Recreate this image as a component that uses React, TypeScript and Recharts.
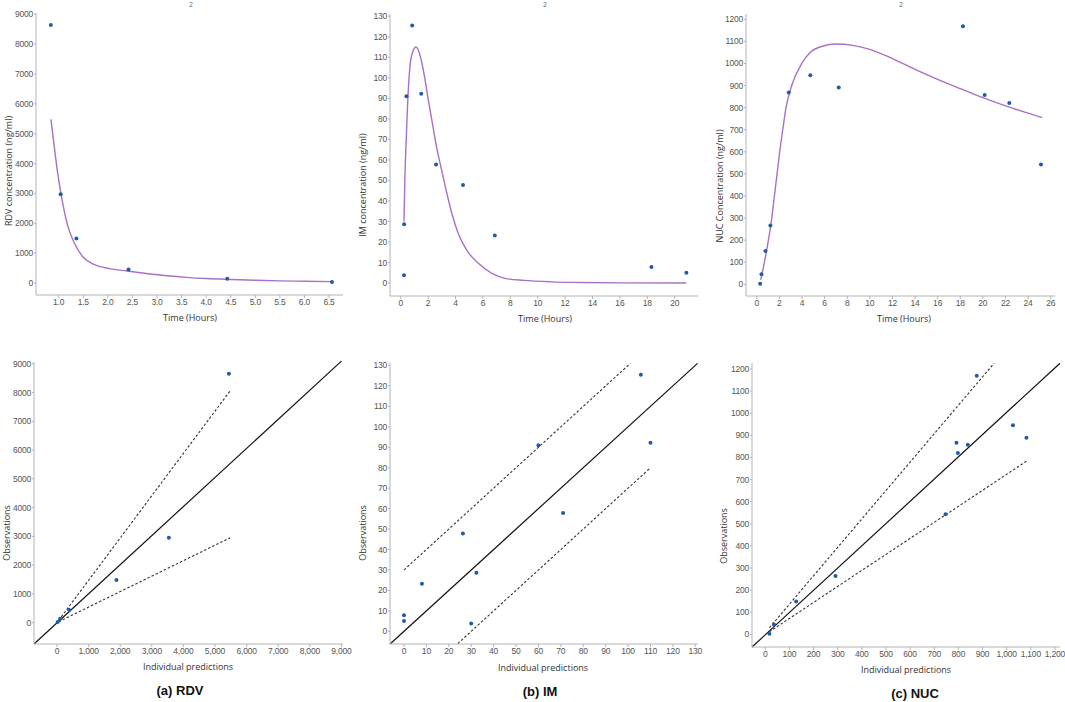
import React from "react";
import {
  ComposedChart,
  Line,
  Scatter,
  XAxis,
  YAxis,
  ReferenceLine,
} from "recharts";

// ---- RDV ----
const rdvTime = [0.84, 1.04, 1.36, 2.42, 4.43, 6.56];
const rdvConc = [8640, 2970, 1490, 450, 140, 30];
const rdvFitTime = [0.843, 0.91, 0.98, 1.07, 1.18, 1.32, 1.49, 1.72, 2.03, 2.39, 2.78, 3.2, 3.6, 4.0, 4.5, 5.0, 5.5, 6.0, 6.56];
const rdvFitConc = [5480, 4560, 3670, 2780, 1940, 1330, 880, 620, 480, 400, 320, 245, 190, 150, 118, 92, 72, 57, 45];
const rdvPred = [5440, 3540, 1880, 380, 100, 20];
const rdvObs = [8650, 2950, 1480, 450, 130, 25];
const rdvIdentity = [[-728, -744], [9000, 9090]];
const rdvUpper = [[50, 75], [5480, 8060]];
const rdvLower = [[50, 30], [5480, 2950]];

// ---- IM ----
const imTime = [0.24, 0.25, 0.42, 0.84, 1.5, 2.58, 4.55, 6.87, 18.3, 20.85];
const imConc = [3.8, 28.7, 91, 125.5, 92.2, 57.8, 47.8, 23.2, 7.8, 5.0];
const imFitTime = [0.24, 0.31, 0.41, 0.51, 0.63, 0.8, 1.12, 1.41, 1.73, 2.02, 2.31, 2.63, 2.99, 3.36, 3.73, 4.21, 4.82, 5.67, 6.65, 7.62, 9, 11, 13, 16, 20.85];
const imFitConc = [30, 52, 71, 88, 102, 111, 115, 111, 101, 89, 78, 66, 55, 44, 34, 24, 16, 9.6, 4.7, 2.3, 1.3, 0.6, 0.3, 0.1, 0.05];
const imPred = [0, 0, 8, 26.3, 32.3, 30, 60, 71, 105.7, 110];
const imObs = [7.8, 5.0, 23.2, 47.8, 28.7, 3.8, 91, 57.8, 125.5, 92.2];
const imIdentity = [[-6.2, -6.2], [131, 131]];
const imUpper = [[0, 30], [101, 131]];
const imLower = [[24, -6], [110, 80]];

// ---- NUC ----
const nucTime = [0.3, 0.42, 0.77, 1.21, 2.83, 4.74, 7.25, 18.24, 20.16, 22.34, 25.14];
const nucConc = [3, 45, 151, 266, 868, 947, 891, 1168, 857, 821, 543];
const nucFitTime = [0.35, 0.68, 1.03, 1.33, 1.56, 1.8, 2.03, 2.3, 2.59, 3.09, 3.98, 4.72, 5.8, 7.0, 8.5, 10, 12, 14, 16, 18, 20, 22, 24, 25.25];
const nucFitConc = [20, 100, 200, 300, 400, 500, 600, 700, 800, 900, 1000, 1050, 1078, 1088, 1082, 1064, 1022, 973, 928, 886, 845, 808, 775, 755];
const nucPred = [17, 36, 128, 291, 747, 792, 798, 839, 876, 1026, 1082];
const nucObs = [3, 45, 149, 264, 543, 867, 820, 857, 1169, 945, 889];
const nucIdentity = [[-55, -57], [1221, 1226]];
const nucUpper = [[17, 30], [948, 1226]];
const nucLower = [[17, 12], [1082, 783]];

// ticks
const rdvTimeTicks = [1.0, 1.5, 2.0, 2.5, 3.0, 3.5, 4.0, 4.5, 5.0, 5.5, 6.0, 6.5];
const rdvConcTicks = [0, 1000, 2000, 3000, 4000, 5000, 6000, 7000, 8000, 9000];
const imTimeTicks = [0, 2, 4, 6, 8, 10, 12, 14, 16, 18, 20];
const imConcTicks = [0, 10, 20, 30, 40, 50, 60, 70, 80, 90, 100, 110, 120, 130];
const nucTimeTicks = [0, 2, 4, 6, 8, 10, 12, 14, 16, 18, 20, 22, 24, 26];
const nucConcTicks = [0, 100, 200, 300, 400, 500, 600, 700, 800, 900, 1000, 1100, 1200];
const rdvPredTicks = [0, 1000, 2000, 3000, 4000, 5000, 6000, 7000, 8000, 9000];

const zip = (xs: number[], ys: number[]) => xs.map((x, i) => ({ x, y: ys[i] }));
const seg = (s: number[][]) => s.map(([x, y]) => ({ x, y }));

const DOT = "#1f5ca8";
const FIT = "#a870c6";
const AXIS = "#b4b4b4";
const tickStyle = {
  fill: "#555",
  fontSize: 8.5,
  letterSpacing: -0.2,
  fontFamily: "Liberation Sans, Arial, sans-serif",
};
const titleFont = "'Open Sans', 'Noto Sans', sans-serif";
const Y_W = 30;
const X_H = 20;

const dotShape = (p: any) => <circle cx={p.cx} cy={p.cy} r={2} fill={DOT} />;

type PanelProps = {
  box: number[]; // x0, y0, w, h
  plot: number[]; // left, top, right, bottom (page px)
  xDomain: number[];
  yDomain: number[];
  xTicks: number[];
  yTicks: number[];
  xFmt?: (v: number) => string;
  points: { x: number; y: number }[];
  curve?: { x: number; y: number }[];
  identity?: number[][];
  upper?: number[][];
  lower?: number[][];
};

function Panel({ box, plot, xDomain, yDomain, xTicks, yTicks, xFmt, points, curve, identity, upper, lower }: PanelProps) {
  const [x0, y0, w, h] = box;
  const [L, T, R, B] = plot;
  return (
    <div style={{ position: "absolute", left: x0, top: y0 }}>
      <ComposedChart
        width={w}
        height={h}
        margin={{ top: T - y0, right: x0 + w - R, bottom: y0 + h - B - X_H, left: L - x0 - Y_W }}
      >
        <XAxis
          type="number"
          dataKey="x"
          domain={xDomain}
          ticks={xTicks}
          interval={0}
          allowDataOverflow
          height={X_H}
          tickFormatter={xFmt}
          axisLine={{ stroke: AXIS }}
          tickLine={{ stroke: AXIS }}
          tickSize={3}
          tickMargin={1}
          tick={tickStyle}
        />
        <YAxis
          type="number"
          dataKey="y"
          domain={yDomain}
          ticks={yTicks}
          interval={0}
          allowDataOverflow
          width={Y_W}
          axisLine={{ stroke: AXIS }}
          tickLine={{ stroke: AXIS }}
          tickSize={2}
          tickMargin={1}
          tick={tickStyle}
        />
        {identity && (
          <ReferenceLine segment={seg(identity)} stroke="#111" strokeWidth={1.2} ifOverflow="visible" />
        )}
        {upper && (
          <ReferenceLine segment={seg(upper)} stroke="#333" strokeWidth={1.1} strokeDasharray="2.5 2" ifOverflow="visible" />
        )}
        {lower && (
          <ReferenceLine segment={seg(lower)} stroke="#333" strokeWidth={1.1} strokeDasharray="2.5 2" ifOverflow="visible" />
        )}
        {curve && (
          <Line
            data={curve}
            dataKey="y"
            type="monotone"
            stroke={FIT}
            strokeWidth={1.4}
            dot={false}
            activeDot={false}
            isAnimationActive={false}
          />
        )}
        <Scatter data={points} dataKey="y" shape={dotShape} isAnimationActive={false} />
      </ComposedChart>
    </div>
  );
}

function Txt({ x, y, text, rotate, size = 9, weight = 400, font = titleFont, color = "#333" }: any) {
  return (
    <div
      style={{
        position: "absolute",
        left: x,
        top: y,
        transform: `translate(-50%, -50%)${rotate ? " rotate(-90deg)" : ""}`,
        whiteSpace: "nowrap",
        fontSize: size,
        fontWeight: weight,
        fontFamily: font,
        color,
        lineHeight: 1,
      }}
    >
      {text}
    </div>
  );
}

const comma = (v: number) => v.toLocaleString("en-US");

export default function App() {
  return (
    <div style={{ position: "relative", width: 1065, height: 702, background: "#fff", overflow: "hidden" }}>
      <style>{`body{margin:0}`}</style>

      {/* top row: concentration vs time */}
      <Panel
        box={[0, 0, 355, 330]}
        plot={[36, 13, 343, 295]}
        xDomain={[0.538, 6.784]}
        yDomain={[-402, 9044]}
        xTicks={rdvTimeTicks}
        yTicks={rdvConcTicks}
        xFmt={(v) => v.toFixed(1)}
        points={zip(rdvTime, rdvConc)}
        curve={zip(rdvFitTime, rdvFitConc)}
      />
      <Panel
        box={[355, 0, 355, 330]}
        plot={[390, 14, 698, 296]}
        xDomain={[-0.78, 21.7]}
        yDomain={[-6.3, 131.1]}
        xTicks={imTimeTicks}
        yTicks={imConcTicks}
        points={zip(imTime, imConc)}
        curve={zip(imFitTime, imFitConc)}
      />
      <Panel
        box={[710, 0, 355, 330]}
        plot={[746, 14, 1055, 296]}
        xDomain={[-0.95, 26.38]}
        yDomain={[-53, 1224]}
        xTicks={nucTimeTicks}
        yTicks={nucConcTicks}
        points={zip(nucTime, nucConc)}
        curve={zip(nucFitTime, nucFitConc)}
      />

      {/* bottom row: observations vs individual predictions */}
      <Panel
        box={[0, 330, 355, 350]}
        plot={[34, 362, 343, 644]}
        xDomain={[-728, 9050]}
        yDomain={[-744, 9061]}
        xTicks={rdvPredTicks}
        yTicks={rdvConcTicks}
        xFmt={comma}
        points={zip(rdvPred, rdvObs)}
        identity={rdvIdentity}
        upper={rdvUpper}
        lower={rdvLower}
      />
      <Panel
        box={[355, 330, 355, 350]}
        plot={[390, 363, 698, 644]}
        xDomain={[-6.24, 131.2]}
        yDomain={[-6.2, 131.2]}
        xTicks={imConcTicks}
        yTicks={imConcTicks}
        points={zip(imPred, imObs)}
        identity={imIdentity}
        upper={imUpper}
        lower={imLower}
      />
      <Panel
        box={[710, 330, 355, 350]}
        plot={[752, 363, 1060, 647]}
        xDomain={[-55, 1221]}
        yDomain={[-57, 1227]}
        xTicks={nucConcTicks}
        yTicks={nucConcTicks}
        xFmt={comma}
        points={zip(nucPred, nucObs)}
        identity={nucIdentity}
        upper={nucUpper}
        lower={nucLower}
      />

      {/* stray superscripts at the top */}
      <Txt x={191} y={4} text="2" size={7} color="#666" />
      <Txt x={545} y={4} text="2" size={7} color="#666" />
      <Txt x={901} y={4} text="2" size={7} color="#666" />

      {/* axis titles */}
      <Txt x={190} y={317} text="Time (Hours)" />
      <Txt x={545} y={318} text="Time (Hours)" />
      <Txt x={904} y={318} text="Time (Hours)" />
      <Txt x={8} y={171} text="RDV concentration (ng/ml)" rotate />
      <Txt x={362} y={185} text="IM concentration (ng/ml)" rotate />
      <Txt x={719} y={186} text="NUC Concentration (ng/ml)" rotate />

      <Txt x={188} y={666} text="Individual predictions" />
      <Txt x={543} y={667} text="Individual predictions" />
      <Txt x={906} y={669} text="Individual predictions" />
      <Txt x={6} y={533} text="Observations" rotate />
      <Txt x={362} y={533} text="Observations" rotate />
      <Txt x={723} y={536} text="Observations" rotate />

      {/* panel captions */}
      <Txt x={180} y={690} text="(a) RDV" size={13} weight={700} font="Liberation Sans, Arial, sans-serif" color="#111" />
      <Txt x={540} y={691} text="(b) IM" size={13} weight={700} font="Liberation Sans, Arial, sans-serif" color="#111" />
      <Txt x={915} y={693} text="(c) NUC" size={13} weight={700} font="Liberation Sans, Arial, sans-serif" color="#111" />
    </div>
  );
}
